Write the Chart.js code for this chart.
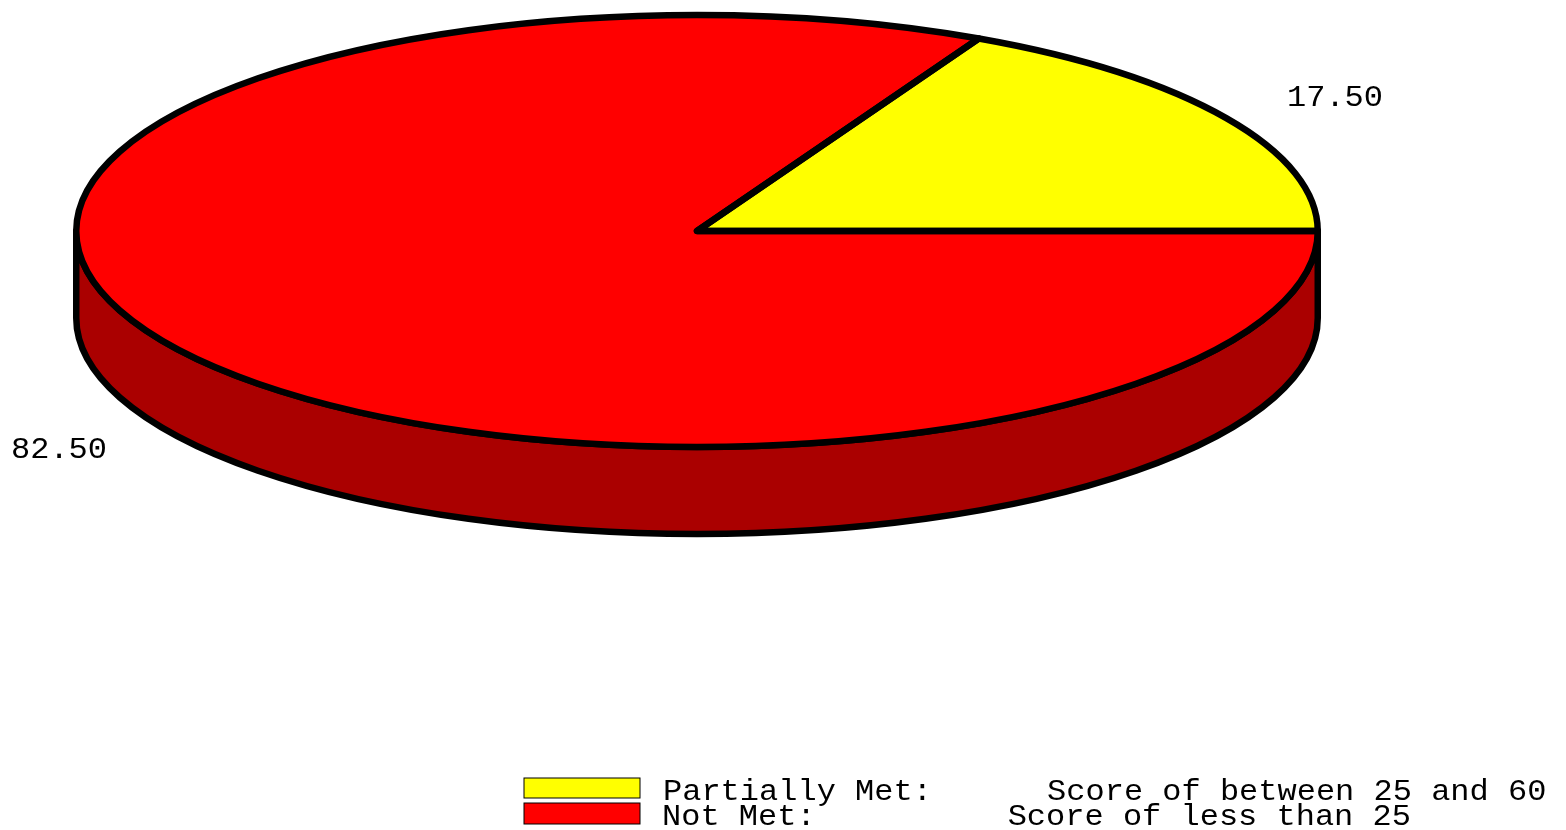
<!DOCTYPE html>
<html>
<head>
<meta charset="utf-8">
<title>Pie</title>
<script src="https://cdn.jsdelivr.net/npm/chart.js@4"></script>
<style>
    html, body { margin: 0; padding: 0; background: #fff; overflow: hidden; }
    canvas { display: block; }
</style>
</head>
<body>
<canvas id="pieChart" width="1566" height="830"></canvas>
<script>
// data
const categories = ['Partially Met:', 'Not Met:'];
const descriptions = ['Score of between 25 and 60', 'Score of less than 25'];
const values = [17.5, 82.5];
const topColors = ['#ffff00', '#ff0000'];
const sideColors = ['#aaaa00', '#aa0000'];
const legendGaps = [6, 10];

// layout
const STRETCH = 620.75 / 216;   // pie is drawn as a circle, then widened
const DEPTH = 87;
const LINE = 6.5;
const FONT = '29px "Liberation Mono", monospace';
const TEXT_WIDEN = 19.2 / 17.4;   // the text in the picture is wider than the font

function drawText(ctx, text, x, y) {
    ctx.save();
    ctx.translate(x, y);
    ctx.scale(TEXT_WIDEN, 1);
    ctx.fillText(text, 0, 0);
    ctx.restore();
}

const pie3d = {
    id: 'pie3d',
    beforeDatasetsDraw(chart) {
        const ctx = chart.ctx;
        const arcs = chart.getDatasetMeta(0).data;
        const { x: cx, y: cy, outerRadius: ry } = arcs[0];
        const rx = ry * STRETCH;

        // side wall, only the front half of the rim shows
        ctx.save();
        ctx.lineWidth = LINE;
        ctx.lineJoin = 'round';
        ctx.strokeStyle = '#000';
        arcs.forEach((arc, i) => {
            const start = Math.max(arc.startAngle, 0);
            const end = Math.min(arc.endAngle, Math.PI);
            if (end <= start) return;
            ctx.beginPath();
            ctx.ellipse(cx, cy, rx, ry, 0, start, end);
            ctx.ellipse(cx, cy + DEPTH, rx, ry, 0, end, start, true);
            ctx.closePath();
            ctx.fillStyle = sideColors[i];
            ctx.fill();
            ctx.stroke();
        });
        ctx.restore();

        // flatten the library's circle to the ellipse
        ctx.save();
        ctx.translate(cx, cy);
        ctx.scale(STRETCH, 1);
        ctx.translate(-cx, -cy);
    },
    afterDatasetsDraw(chart) {
        const ctx = chart.ctx;
        ctx.restore();

        const arcs = chart.getDatasetMeta(0).data;
        const { x: cx, y: cy, outerRadius: ry } = arcs[0];
        const rx = ry * STRETCH;

        // slice outlines
        ctx.save();
        ctx.lineWidth = LINE;
        ctx.lineJoin = 'round';
        ctx.strokeStyle = '#000';
        arcs.forEach(arc => {
            ctx.beginPath();
            ctx.moveTo(cx, cy);
            ctx.ellipse(cx, cy, rx, ry, 0, arc.startAngle, arc.endAngle);
            ctx.closePath();
            ctx.stroke();
        });
        ctx.restore();

        // value labels
        ctx.save();
        ctx.font = FONT;
        ctx.fillStyle = '#000';
        ctx.textBaseline = 'alphabetic';
        drawText(ctx, values[0].toFixed(2), 1287, 106);
        drawText(ctx, values[1].toFixed(2), 11, 458);

        // legend
        const rows = [{ box: 778, h: 20, text: 663, base: 800 }, { box: 803, h: 21, text: 662, base: 825 }];
        rows.forEach((row, i) => {
            ctx.fillStyle = topColors[i];
            ctx.fillRect(524, row.box, 116, row.h);
            ctx.strokeStyle = '#000';
            ctx.lineWidth = 1;
            ctx.strokeRect(524, row.box, 116, row.h);
            ctx.fillStyle = '#000';
            drawText(ctx, categories[i] + ' '.repeat(legendGaps[i]) + descriptions[i], row.text, row.base);
        });
        ctx.restore();
    }
};

new Chart(document.getElementById('pieChart').getContext('2d'), {
    type: 'pie',
    data: {
        labels: categories,
        datasets: [{
            data: values,
            backgroundColor: topColors,
            hoverBackgroundColor: topColors,
            borderWidth: 0,
            hoverBorderWidth: 0
        }]
    },
    options: {
        responsive: false,
        animation: false,
        rotation: 27,   // yellow slice ends on the right hand side
        layout: { padding: { left: 76, right: 248, top: 15, bottom: 383 } },
        plugins: {
            legend: { display: false },
            title: { display: false },
            tooltip: { enabled: false }
        }
    },
    plugins: [pie3d]
});
</script>
</body>
</html>
